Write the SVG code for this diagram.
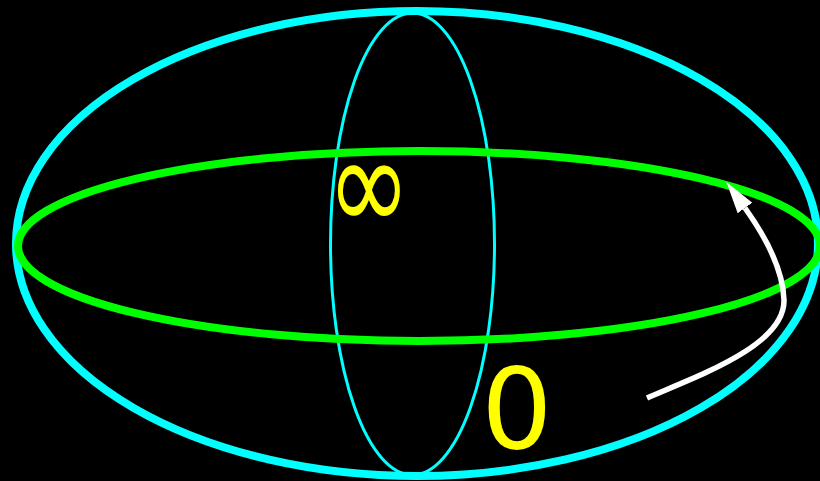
<svg xmlns="http://www.w3.org/2000/svg" width="820" height="481" viewBox="0 0 820 481">
<style>
.lbl{fill:#ffff00;font-family:"DejaVu Sans",sans-serif;}
.cy{fill:none;stroke:#00ffff;}
</style>
<defs>
<marker id="ah" viewBox="0 0 32 18" refX="0" refY="9" markerWidth="32" markerHeight="18" markerUnits="userSpaceOnUse" orient="auto">
<path d="M0,0 L32,9 L0,18 Z" fill="#ffffff"/>
</marker>
</defs>
<rect width="820" height="481" fill="#000000"/>
<g id="sphere">
<ellipse cx="417" cy="243.5" rx="401" ry="232.5" class="cy" stroke-width="8"/>
</g>
<g id="meridian">
<ellipse cx="412.5" cy="244" rx="82" ry="231" class="cy" stroke-width="3"/>
</g>
<g id="equator">
<ellipse cx="419" cy="246" rx="401" ry="95" fill="none" stroke="#00ff00" stroke-width="8"/>
</g>
<g id="label-inf">
<text transform="translate(369,231) scale(1,1.35)" x="0" y="0" class="lbl" font-size="100" text-anchor="middle">∞</text>
</g>
<g id="label-zero">
<text x="517" y="448" class="lbl" font-size="112" text-anchor="middle">0</text>
</g>
<g id="connectors">
<path d="M647,398 C700,375 785,345 784,300 C783,268 765,236 745,208" fill="none" stroke="#ffffff" stroke-width="5.5" marker-end="url(#ah)"/>
</g>
</svg>
